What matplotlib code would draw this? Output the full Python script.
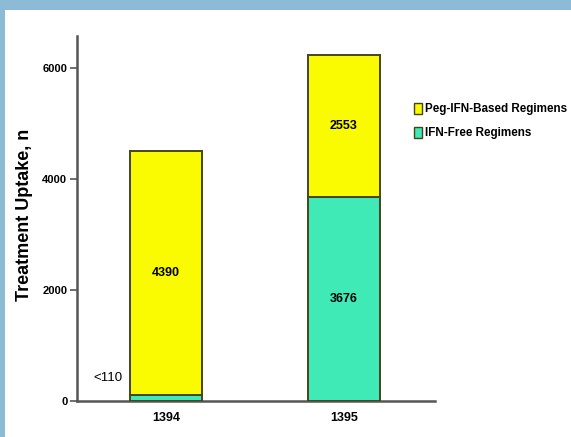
import numpy as np
import matplotlib.pyplot as plt
from matplotlib.patches import Rectangle, Patch

plt.rcParams['font.family'] = ['Liberation Sans', 'DejaVu Sans']

years = ['1394', '1395']
ifn_free = [110, 3676]
peg_ifn = [4390, 2553]
ifn_free_text = ['<110', '3676']
peg_text = ['4390', '2553']

yellow = '#FAFA00'
green = '#40EAB6'
edge = '#45451A'

fig = plt.figure(figsize=(5.71, 4.37), dpi=100)
fig.patch.set_facecolor('#8DBBD6')
# white panel inside the blue frame
fig.patches.append(Rectangle((5 / 571, 0), 1, 1 - 10 / 437, transform=fig.transFigure,
                             facecolor='white', edgecolor='none', zorder=-5))

ax = fig.add_axes([77 / 571, (437 - 401) / 437, (435 - 77) / 571, (401 - 36) / 437])
ax.set_facecolor('none')

x = np.arange(len(years))
w = 0.405
ax.bar(x, ifn_free, w, color=green, edgecolor=edge, linewidth=1.4, zorder=3)
ax.bar(x, peg_ifn, w, bottom=ifn_free, color=yellow, edgecolor=edge, linewidth=1.4, zorder=3)

# values written on the bars
ax.text(x[1], ifn_free[1] / 2, ifn_free_text[1], ha='center', va='center',
        fontsize=9, fontweight='bold', zorder=4)
ax.text(x[0] - 0.326, 414, ifn_free_text[0], ha='center', va='center',
        fontsize=9.5, zorder=4)
for i in range(len(years)):
    ax.text(x[i], ifn_free[i] + peg_ifn[i] / 2, peg_text[i], ha='center', va='center',
            fontsize=9, fontweight='bold', zorder=4)

ax.set_xlim(-0.5, 1.511)
ax.set_ylim(0, 6580)
ax.set_yticks([0, 2000, 4000, 6000])
ax.set_yticklabels(['0', '2000', '4000', '6000'], fontsize=8, fontweight='bold')
ax.set_xticks(x)
ax.set_xticklabels(years, fontsize=9, fontweight='bold')
ax.tick_params(axis='x', length=0, pad=8)
ax.tick_params(axis='y', length=5, width=1.2, color='#555555', pad=2)
for s in ['top', 'right']:
    ax.spines[s].set_visible(False)
for s in ['left', 'bottom']:
    ax.spines[s].set_color('#555555')
    ax.spines[s].set_linewidth(1.8)

fig.text(25 / 571, 1 - 215 / 437, 'Treatment Uptake, n', rotation=90, ha='center',
         va='center', fontsize=13, fontweight='bold')

handles = [Patch(facecolor=yellow, edgecolor=edge, label='Peg-IFN-Based Regimens'),
           Patch(facecolor=green, edgecolor=edge, label='IFN-Free Regimens')]
fig.legend(handles=handles, loc='upper left', bbox_to_anchor=(409 / 571, 1 - 98 / 437),
           frameon=False, prop={'size': 8.4, 'weight': 'bold'}, handlelength=0.7,
           handleheight=1.1, handletextpad=0.3, labelspacing=1.0, borderaxespad=0)

fig.savefig('out.png', dpi=100, facecolor=fig.get_facecolor())
